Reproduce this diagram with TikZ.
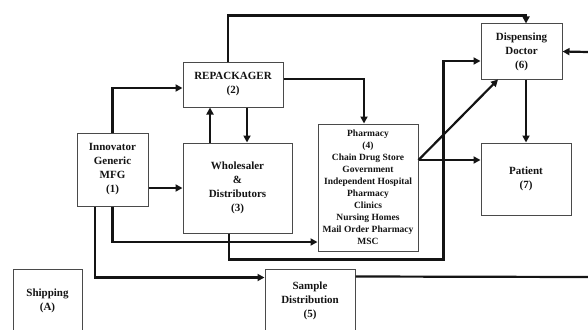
\documentclass[tikz,border=0pt]{standalone}
\usepackage{fontspec}
\setmainfont{Liberation Serif}
\usetikzlibrary{arrows.meta,calc}
\definecolor{ink}{HTML}{141414}
\definecolor{edge}{HTML}{4A4A4A}

\begin{document}
\begin{tikzpicture}[x=1pt,y=-1pt,font=\fontsize{11}{14}\selectfont\bfseries,
  box/.style={draw=edge,line width=1pt,fill=white,align=center,inner sep=0pt,text=ink},
  flow/.style={ink,line width=2.2pt,-{Triangle[length=7pt,width=7pt]}},
  wire/.style={ink,line width=2.2pt}]
  \useasboundingbox (0,0) rectangle (588,329);
  % the boxes, in page pixels (y runs down)
  \node[box,minimum width=71pt,minimum height=73pt] (inno) at (112.5,169.5) {Innovator\\Generic\\MFG\\(1)};
  \node[box,minimum width=100pt,minimum height=45pt] (rep) at (233,84.5) {REPACKAGER\\(2)};
  \node[box,minimum width=109pt,minimum height=90pt] (whole) at (237.5,188) {Wholesaler\\\&\\Distributors\\(3)};
  \node[box,minimum width=100pt,minimum height=127pt,font=\fontsize{9.5}{12}\selectfont\bfseries] (pharm) at (368,187.5)
    {Pharmacy\\(4)\\Chain Drug Store\\Government\\Independent Hospital\\Pharmacy\\Clinics\\Nursing Homes\\Mail Order Pharmacy\\MSC};
  \node[box,minimum width=81pt,minimum height=55pt] (doc) at (521.5,51.5) {Dispensing\\Doctor\\(6)};
  \node[box,minimum width=90pt,minimum height=72pt] (pat) at (526,179) {Patient\\(7)};
  \node[box,minimum width=90pt,minimum height=64pt] (samp) at (310,301) {Sample\\Distribution\\(5)};
  \node[box,minimum width=69pt,minimum height=64pt] (ship) at (47.5,301) {Shipping\\(A)};
  \coordinate (offdoc) at (588,52); \coordinate (offsamp) at (588,277);
  % manufacturer out
  \draw[flow] (inno.north) |- ($(rep.west)+(0,3.5)$);
  \draw[flow] ($(inno.east)+(0,18.5)$) coordinate (e) -- (e -| whole.west);
  \draw[flow] (inno.south) |- ($(pharm.west)+(0,54.5)$);
  \draw[flow] ($(inno.south)+(-17.5,0)$) |- ($(samp.north west)+(0,9)$);
  % repackager and wholesaler
  \draw[flow] ($(rep.north)+(-5,0)$) -- ++(0,-46) -| ($(doc.north)+(4.5,0)$);
  \draw[flow] ($(rep.east)+(0,-5.5)$) -| ($(pharm.north)+(-4,0)$);
  \draw[flow] ($(whole.north)+(-27.5,0)$) coordinate (u) -- (u |- rep.south);
  \draw[flow] ($(rep.south)+(14,0)$) coordinate (d) -- (d |- whole.north);
  \draw[flow] ($(whole.south)+(-8.5,0)$) -- ++(0,26) -| ($(doc.west)+(-37,9.5)$) -- ($(doc.west)+(0,9.5)$);
  % pharmacy and doctor to patient
  \draw[flow] ($(pharm.east)+(0,-27.5)$) coordinate (f) -- (f -| pat.west);
  \draw[flow] (f) -- ($(doc.south)+(-23.5,0)$);
  \draw[flow] ($(doc.south)+(4.5,0)$) coordinate (g) -- (g |- pat.north);
  \draw[flow] (offdoc) -- (doc.east);
  \draw[wire] ($(samp.north east)+(0,8)$) -- (offsamp);
\end{tikzpicture}
\end{document}
